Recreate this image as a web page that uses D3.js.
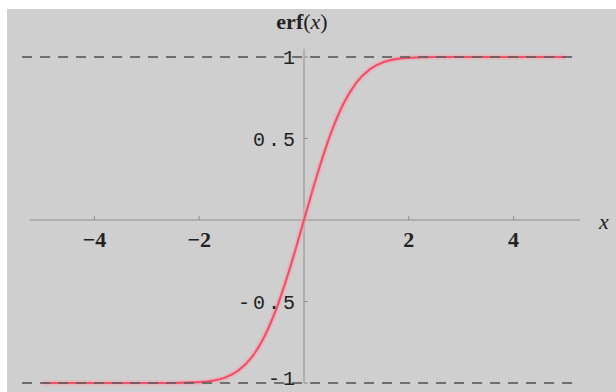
<!DOCTYPE html>
<html>
	<head>
		<title>erf(x)</title>
		<meta charset="utf-8">
	</head>
	<body>
		<svg id="chart" width="616" height="392"></svg>
	</body>

	<script src="https://d3js.org/d3.v7.min.js"></script>
	<script>
		// points
		const xValues = [-5, -4, -3, -2.5, -2, -1.75, -1.5, -1.25, -1, -0.75, -0.5, -0.25, 0,
			0.25, 0.5, 0.75, 1, 1.25, 1.5, 1.75, 2, 2.5, 3, 4, 5];
		const yValues = [-1, -1, -1, -1, -0.995, -0.987, -0.966, -0.923, -0.843, -0.711, -0.52, -0.276, 0,
			0.276, 0.52, 0.711, 0.843, 0.923, 0.966, 0.987, 0.995, 1, 1, 1, 1];

		const xTicks = [-4, -2, 2, 4];
		const xTickLabels = ["\u22124", "\u22122", "2", "4"];
		const yTicks = [1, 0.5, -0.5, -1];
		const yTickLabels = ["1", "0.5", "-0.5", "-1"];
		const asymptotes = [1, -1];

		const width = 616, height = 392;

		const x = d3.scaleLinear().domain([-5, 5]).range([42, 566]);
		const y = d3.scaleLinear().domain([-1, 1]).range([383, 57]);

		const svg = d3.select("#chart");

		// grey plot background with a thin white margin
		svg.append("rect")
			.attr("x", 7).attr("y", 9)
			.attr("width", width - 7).attr("height", height - 9)
			.attr("fill", "#cfcfcf");

		// axes through the origin
		svg.append("line")
			.attr("class", "axis")
			.attr("x1", x(-5.23)).attr("x2", x(5.27))
			.attr("y1", y(0)).attr("y2", y(0));
		svg.append("line")
			.attr("class", "axis")
			.attr("x1", x(0)).attr("x2", x(0))
			.attr("y1", y(1.05)).attr("y2", y(-1));

		// small tick marks
		svg.selectAll(".xtick")
			.data(xTicks)
			.enter().append("line")
				.attr("class", "axis")
				.attr("x1", d => x(d)).attr("x2", d => x(d))
				.attr("y1", y(0) - 4).attr("y2", y(0));
		svg.selectAll(".ytick")
			.data(yTicks)
			.enter().append("line")
				.attr("class", "axis")
				.attr("x1", x(0)).attr("x2", x(0) + 4)
				.attr("y1", d => y(d)).attr("y2", d => y(d));

		// the curve, with a soft halo
		const line = d3.line()
			.x((d, i) => x(xValues[i]))
			.y(d => y(d))
			.curve(d3.curveMonotoneX);

		svg.append("path")
			.attr("d", line(yValues))
			.attr("fill", "none")
			.attr("stroke", "#f0aab4")
			.attr("stroke-width", 6)
			.attr("opacity", 0.5);
		svg.append("path")
			.attr("d", line(yValues))
			.attr("fill", "none")
			.attr("stroke", "#f05068")
			.attr("stroke-width", 2.2);

		// dashed asymptotes at +1 / -1
		svg.selectAll(".dash")
			.data(asymptotes)
			.enter().append("line")
				.attr("class", "dash")
				.attr("x1", x(-5.38)).attr("x2", x(5.12))
				.attr("y1", d => y(d)).attr("y2", d => y(d));

		// tick labels
		svg.selectAll(".xlabel")
			.data(xTicks)
			.enter().append("text")
				.attr("class", "xlabel")
				.attr("x", d => x(d))
				.attr("y", y(0) + 27)
				.attr("text-anchor", "middle")
				.text((d, i) => xTickLabels[i]);

		svg.selectAll(".ylabel")
			.data(yTicks)
			.enter().append("text")
				.attr("class", "ylabel")
				.attr("x", x(0) - 6)
				.attr("y", d => Math.min(y(d) + 7, height - 7))
				.attr("text-anchor", "end")
				.text((d, i) => yTickLabels[i]);

		// axis titles
		const title = svg.append("text")
			.attr("class", "title")
			.attr("x", x(0) - 2)
			.attr("y", 29)
			.attr("text-anchor", "middle");
		title.append("tspan").attr("font-weight", "bold").text("erf");
		title.append("tspan").text("(");
		title.append("tspan").attr("font-style", "italic").text("x");
		title.append("tspan").text(")");

		svg.append("text")
			.attr("class", "title")
			.attr("x", 604)
			.attr("y", 229)
			.attr("text-anchor", "middle")
			.attr("font-style", "italic")
			.text("x");
	</script>

	<style>
		html, body
		{
			margin: 0;
			background: #fff;
		}

		.axis
		{
			stroke: #8e8e8e;
			stroke-width: 1;
		}

		.dash
		{
			stroke: #5f5f5f;
			stroke-width: 2;
			stroke-dasharray: 10, 8;
			opacity: 0.85;
		}

		.xlabel
		{
			font-family: "Liberation Serif", serif;
			font-size: 22px;
			font-weight: bold;
			fill: #222;
		}

		.ylabel
		{
			font-family: "Liberation Mono", monospace;
			font-size: 20px;
			letter-spacing: 3px;
			fill: #222;
		}

		.title
		{
			font-family: "Liberation Serif", serif;
			font-size: 22px;
			fill: #222;
		}
	</style>
</html>
